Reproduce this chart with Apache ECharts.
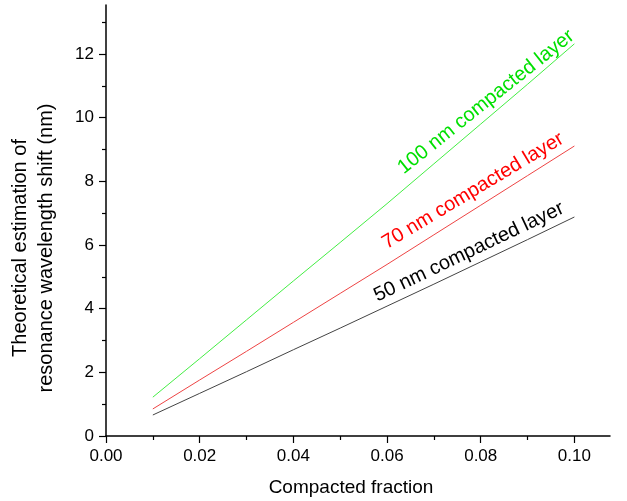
<!DOCTYPE html>
<html>
<head>
<meta charset="utf-8">
<script src="https://cdn.jsdelivr.net/npm/echarts@6/dist/echarts.min.js"></script>
<style>
  html, body { margin: 0; padding: 0; background: #fff; }
  #chart { width: 627px; height: 501px; }
</style>
</head>
<body>
<div id="chart"></div>
<script>
// data
var fraction = [0.01, 0.02, 0.03, 0.04, 0.05, 0.06, 0.07, 0.08, 0.09, 0.10];
var layer100 = [1.22, 2.43, 3.65, 4.87, 6.08, 7.30, 8.55, 9.80, 11.05, 12.32];
var layer70 = [0.85, 1.76, 2.66, 3.57, 4.48, 5.39, 6.32, 7.25, 8.18, 9.11];
var layer50 = [0.66, 1.34, 2.02, 2.71, 3.39, 4.08, 4.77, 5.47, 6.17, 6.88];

var xTicks = [0, 0.02, 0.04, 0.06, 0.08, 0.10];
var xMinor = [0.01, 0.03, 0.05, 0.07, 0.09];
var yTicks = [0, 2, 4, 6, 8, 10, 12];
var yMinor = [1, 3, 5, 7, 9, 11, 13];

var seriesNames = ['100 nm compacted layer', '70 nm compacted layer', '50 nm compacted layer'];
var lineColors = ['#44ee44', '#ee4444', '#444444'];
var textColors = ['#00e000', '#ff0000', '#000000'];

function pairs(ys) {
  return fraction.map(function (x, i) { return [x, ys[i]]; });
}

var font = 'Arial, "Liberation Sans", sans-serif';

var chart = echarts.init(document.getElementById('chart'));

var option = {
  animation: false,
  backgroundColor: '#fff',
  grid: { left: 106, right: 17, top: 5, bottom: 65 },
  xAxis: [
    {
      type: 'value',
      min: 0,
      max: 0.1076,
      splitLine: { show: false },
      axisLine: { onZero: false, lineStyle: { color: '#000', width: 1.5 } },
      axisTick: { customValues: xTicks, length: 7, lineStyle: { color: '#000', width: 1.2 } },
      axisLabel: {
        customValues: xTicks,
        margin: 12,
        color: '#000',
        fontSize: 17,
        fontFamily: font,
        formatter: function (v) { return v.toFixed(2); }
      }
    },
    {
      type: 'value',
      min: 0,
      max: 0.1076,
      position: 'bottom',
      splitLine: { show: false },
      axisLine: { show: false },
      axisTick: { customValues: xMinor, length: 4, lineStyle: { color: '#000', width: 1.2 } },
      axisLabel: { show: false }
    }
  ],
  yAxis: [
    {
      type: 'value',
      min: 0,
      max: 13.54,
      splitLine: { show: false },
      axisLine: { onZero: false, lineStyle: { color: '#000', width: 1.5 } },
      axisTick: { customValues: yTicks, length: 7, lineStyle: { color: '#000', width: 1.2 } },
      axisLabel: {
        customValues: yTicks,
        margin: 12,
        color: '#000',
        fontSize: 17,
        fontFamily: font
      }
    },
    {
      type: 'value',
      min: 0,
      max: 13.54,
      position: 'left',
      splitLine: { show: false },
      axisLine: { show: false },
      axisTick: { customValues: yMinor, length: 4, lineStyle: { color: '#000', width: 1.2 } },
      axisLabel: { show: false }
    }
  ],
  graphic: [
    {
      type: 'text',
      x: 351, y: 488,
      style: {
        text: 'Compacted fraction',
        fill: '#000',
        font: '19px ' + font,
        textAlign: 'center',
        textVerticalAlign: 'middle'
      }
    },
    {
      type: 'text',
      x: 33, y: 248,
      rotation: Math.PI / 2,
      style: {
        text: 'Theoretical estimation of\nresonance wavelength shift (nm)',
        fill: '#000',
        font: '20px ' + font,
        lineHeight: 26,
        textAlign: 'center',
        textVerticalAlign: 'middle'
      }
    },
    {
      type: 'text',
      x: 486, y: 102,
      rotation: 38.5 * Math.PI / 180,
      style: {
        text: seriesNames[0],
        fill: textColors[0],
        font: '20px ' + font,
        textAlign: 'center',
        textVerticalAlign: 'middle'
      }
    },
    {
      type: 'text',
      x: 473, y: 191,
      rotation: 31 * Math.PI / 180,
      style: {
        text: seriesNames[1],
        fill: textColors[1],
        font: '20px ' + font,
        textAlign: 'center',
        textVerticalAlign: 'middle'
      }
    },
    {
      type: 'text',
      x: 469, y: 252,
      rotation: 25.5 * Math.PI / 180,
      style: {
        text: seriesNames[2],
        fill: textColors[2],
        font: '20px ' + font,
        textAlign: 'center',
        textVerticalAlign: 'middle'
      }
    }
  ],
  series: [layer100, layer70, layer50].map(function (ys, i) {
    return {
      name: seriesNames[i],
      type: 'line',
      xAxisIndex: 0,
      yAxisIndex: 0,
      data: pairs(ys),
      showSymbol: false,
      symbol: 'none',
      lineStyle: { color: lineColors[i], width: 1 },
      itemStyle: { color: lineColors[i] }
    };
  })
};

chart.setOption(option);
</script>
</body>
</html>
